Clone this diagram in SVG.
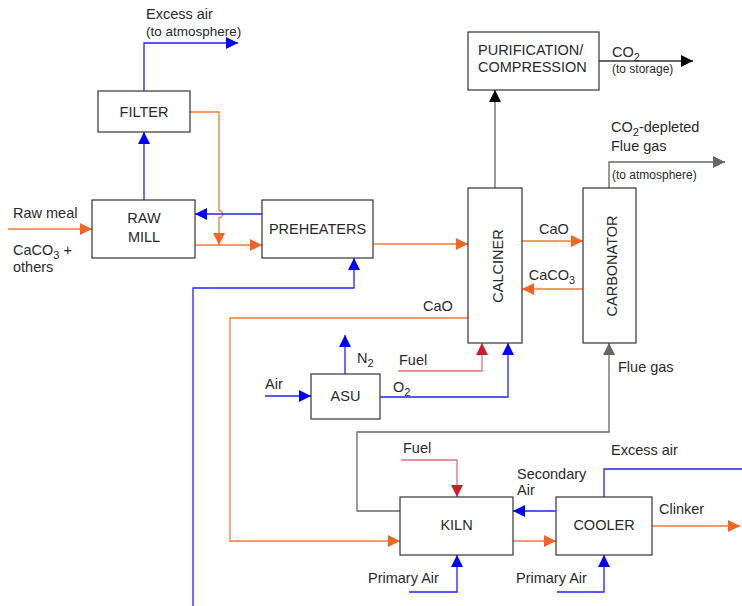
<svg xmlns="http://www.w3.org/2000/svg" width="742" height="606" viewBox="0 0 742 606">
<style>
  .box{fill:#fff;stroke:#333;stroke-width:1.2}
  text{font-family:"Liberation Sans",Arial,sans-serif;fill:#2a2a2a;font-size:14.5px}
  .sm{font-size:12px}
  .c{text-anchor:middle}
  .o{fill:none;stroke:#f47a3a;stroke-width:1.3}
  .b{fill:none;stroke:#2020ff;stroke-width:1.3}
  .r{fill:none;stroke:#e0707a;stroke-width:1.3}
  .g{fill:none;stroke:#666;stroke-width:1.3}
  .k{fill:none;stroke:#333;stroke-width:1.3}
</style>
<defs>
  <marker id="ao" viewBox="0 0 12 12" refX="12" refY="6" markerWidth="12" markerHeight="12" markerUnits="userSpaceOnUse" orient="auto"><path d="M0,0L12,6L0,12z" fill="#f26522"/></marker>
  <marker id="ab" viewBox="0 0 12 12" refX="12" refY="6" markerWidth="12" markerHeight="12" markerUnits="userSpaceOnUse" orient="auto"><path d="M0,0L12,6L0,12z" fill="#0000ff"/></marker>
  <marker id="ar" viewBox="0 0 12 12" refX="12" refY="6" markerWidth="12" markerHeight="12" markerUnits="userSpaceOnUse" orient="auto"><path d="M0,0L12,6L0,12z" fill="#cc1f2a"/></marker>
  <marker id="ag" viewBox="0 0 12 12" refX="12" refY="6" markerWidth="12" markerHeight="12" markerUnits="userSpaceOnUse" orient="auto"><path d="M0,0L12,6L0,12z" fill="#666"/></marker>
  <marker id="ak" viewBox="0 0 12 12" refX="12" refY="6" markerWidth="12" markerHeight="12" markerUnits="userSpaceOnUse" orient="auto"><path d="M0,0L12,6L0,12z" fill="#000"/></marker>
</defs>

<g id="connectors">
  <!-- filter excess air -->
  <path class="b" d="M144,91V43H238" marker-end="url(#ab)"/>
  <!-- raw mill to filter -->
  <path class="b" d="M144,200V132" marker-end="url(#ab)"/>
  <!-- raw meal in -->
  <path class="o" d="M8,229H92" marker-end="url(#ao)"/>
  <!-- filter dust back -->
  <path class="o" d="M190,112H219V210.5a3.7,3.7 0 0 1 0,7.4V245" marker-end="url(#ao)"/>
  <!-- raw mill to preheaters -->
  <path class="o" d="M195,245H262" marker-end="url(#ao)"/>
  <!-- preheaters gas to raw mill -->
  <path class="b" d="M262,214H195" marker-end="url(#ab)"/>
  <!-- gas into preheaters -->
  <path class="b" d="M193,606V288H354V258" marker-end="url(#ab)"/>
  <!-- preheaters to calciner -->
  <path class="o" d="M373,244H468" marker-end="url(#ao)"/>
  <!-- calciner to purification -->
  <path class="g" d="M495,188V102"/>
  <path class="k" d="M495,100V90" marker-end="url(#ak)"/>
  <!-- CO2 to storage -->
  <path class="k" d="M599,61H693" marker-end="url(#ak)"/>
  <!-- CaO calciner -> carbonator -->
  <path class="o" d="M522,241H583" marker-end="url(#ao)"/>
  <!-- CaCO3 carbonator -> calciner -->
  <path class="o" d="M583,289H522" marker-end="url(#ao)"/>
  <!-- CO2-depleted flue gas -->
  <path class="g" d="M609,188V162H725" marker-end="url(#ag)"/>
  <!-- CaO calciner -> kiln -->
  <path class="o" d="M468,318H230V541H400" marker-end="url(#ao)"/>
  <!-- fuel to calciner -->
  <path class="r" d="M398,371H482V343" marker-end="url(#ar)"/>
  <!-- O2 to calciner -->
  <path class="b" d="M380,397H508V343" marker-end="url(#ab)"/>
  <!-- air to ASU -->
  <path class="b" d="M265,396H311" marker-end="url(#ab)"/>
  <!-- N2 -->
  <path class="b" d="M345,374V335" marker-end="url(#ab)"/>
  <!-- flue gas kiln -> carbonator -->
  <path class="g" d="M400,511H357V432H609V343" marker-end="url(#ag)"/>
  <!-- fuel to kiln -->
  <path class="r" d="M401,460H457V497" marker-end="url(#ar)"/>
  <!-- secondary air -->
  <path class="b" d="M556,511H513" marker-end="url(#ab)"/>
  <!-- kiln to cooler -->
  <path class="o" d="M513,541H556" marker-end="url(#ao)"/>
  <!-- cooler excess air -->
  <path class="b" d="M604,497V469H742"/>
  <!-- clinker -->
  <path class="o" d="M652,526H740" marker-end="url(#ao)"/>
  <!-- primary air kiln -->
  <path class="b" d="M409,592H457V555" marker-end="url(#ab)"/>
  <!-- primary air cooler -->
  <path class="b" d="M557,592H604V555" marker-end="url(#ab)"/>
</g>

<g id="filter"><rect class="box" x="98" y="91" width="92" height="41"/><text class="c" x="144" y="117">FILTER</text></g>
<g id="rawmill"><rect class="box" x="92" y="200" width="103" height="58"/><text class="c" x="144" y="223">RAW</text><text class="c" x="144" y="242">MILL</text></g>
<g id="preheaters"><rect class="box" x="262" y="200" width="111" height="58"/><text class="c" x="317.5" y="234">PREHEATERS</text></g>
<g id="purification"><rect class="box" x="468" y="32" width="131" height="58"/><text x="478" y="55">PURIFICATION/</text><text x="478" y="72">COMPRESSION</text></g>
<g id="calciner"><rect class="box" x="468" y="188" width="54" height="155"/><text class="c" transform="translate(503,266) rotate(-90)">CALCINER</text></g>
<g id="carbonator"><rect class="box" x="583" y="188" width="53" height="155"/><text class="c" transform="translate(617,266) rotate(-90)">CARBONATOR</text></g>
<g id="asu"><rect class="box" x="311" y="374" width="69" height="45"/><text class="c" x="345.5" y="401">ASU</text></g>
<g id="kiln"><rect class="box" x="400" y="497" width="113" height="58"/><text class="c" x="456.5" y="530">KILN</text></g>
<g id="cooler"><rect class="box" x="556" y="497" width="96" height="58"/><text class="c" x="604" y="530">COOLER</text></g>

<g id="labels">
  <text x="146" y="19">Excess air</text>
  <text x="146" y="36" style="font-size:13.5px">(to atmosphere)</text>
  <text x="13" y="218">Raw meal</text>
  <text x="13" y="255">CaCO<tspan dy="4" style="font-size:11px">3</tspan><tspan dy="-4"> +</tspan></text>
  <text x="13" y="272">others</text>
  <text x="612" y="57">CO<tspan dy="4" style="font-size:11px">2</tspan></text>
  <text class="sm" x="612" y="73">(to storage)</text>
  <text x="611" y="132">CO<tspan dy="4" style="font-size:11px">2</tspan><tspan dy="-4">-depleted</tspan></text>
  <text x="611" y="151">Flue gas</text>
  <text class="sm" x="612" y="179">(to atmosphere)</text>
  <text class="c" x="554" y="234">CaO</text>
  <text class="c" x="552" y="280">CaCO<tspan dy="4" style="font-size:11px">3</tspan></text>
  <text x="423" y="311">CaO</text>
  <text x="357" y="363">N<tspan dy="4" style="font-size:11px">2</tspan></text>
  <text x="399" y="365">Fuel</text>
  <text x="265" y="389">Air</text>
  <text x="393" y="392">O<tspan dy="4" style="font-size:11px">2</tspan></text>
  <text x="618" y="372">Flue gas</text>
  <text x="403" y="453">Fuel</text>
  <text x="611" y="455">Excess air</text>
  <text x="517" y="479">Secondary</text>
  <text x="517" y="495">Air</text>
  <text x="659" y="514">Clinker</text>
  <text x="368" y="583">Primary Air</text>
  <text x="516" y="583">Primary Air</text>
</g>
</svg>
